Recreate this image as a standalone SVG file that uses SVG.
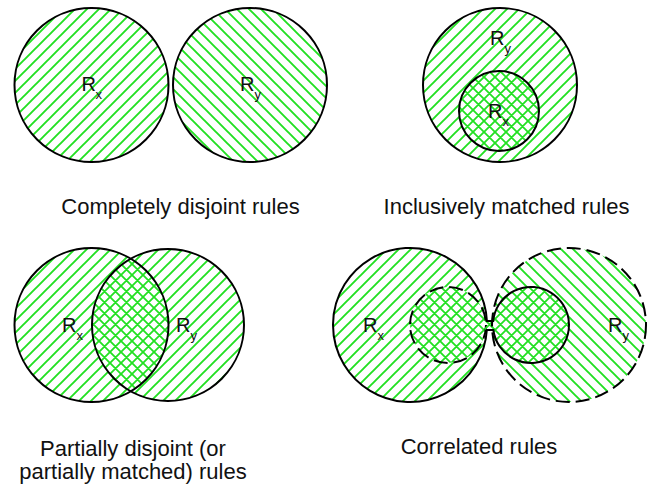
<svg xmlns="http://www.w3.org/2000/svg" width="647" height="484" viewBox="0 0 647 484">
<style>
.c{fill:none;stroke:#000;stroke-width:2}
.d{fill:none;stroke:#000;stroke-width:2;stroke-dasharray:14 6}
.f{fill:url(#hf)}
.b{fill:url(#hb)}
.x{fill:url(#hx)}
.w{fill:#fff}
text{font-family:"Liberation Sans",Arial,sans-serif;fill:#111}
.cap{font-size:22px;text-anchor:middle}
.R{font-size:20px}
.s{font-size:13px}
</style>
<defs>
<pattern id="hf" patternUnits="userSpaceOnUse" width="12" height="12">
<path d="M-1,1 L1,-1 M0,12 L12,0 M11,13 L13,11" stroke="#22e022" stroke-width="1.9"/>
</pattern>
<pattern id="hb" patternUnits="userSpaceOnUse" width="12" height="12">
<path d="M-1,11 L1,13 M0,0 L12,12 M11,-1 L13,1" stroke="#22e022" stroke-width="1.9"/>
</pattern>
<pattern id="hx" patternUnits="userSpaceOnUse" width="11" height="11">
<path d="M-1,1 L1,-1 M0,11 L11,0 M10,12 L12,10 M-1,10 L1,12 M0,0 L11,11 M10,-1 L12,1" stroke="#22e022" stroke-width="1.8"/>
</pattern>
<clipPath id="clipRx3"><circle cx="91.5" cy="325" r="77"/></clipPath>
</defs>
<rect width="647" height="484" fill="#fff"/>

<g id="disjoint">
<g id="d-rx">
<circle class="f" cx="91.5" cy="85" r="77"/>
<circle class="c" cx="91.5" cy="85" r="77"/>
<text class="R" x="81.5" y="91">R</text><text class="s" x="95.5" y="99">x</text>
</g>
<g id="d-ry">
<circle class="b" cx="250" cy="85" r="77"/>
<circle class="c" cx="250" cy="85" r="77"/>
<text class="R" x="240" y="91">R</text><text class="s" x="254.5" y="99">y</text>
</g>
<text class="cap" x="180.5" y="214">Completely disjoint rules</text>
</g>

<g id="inclusive">
<g id="i-ry">
<circle class="f" cx="500" cy="85" r="77"/>
<circle class="c" cx="500" cy="85" r="77"/>
<text class="R" x="490" y="45">R</text><text class="s" x="504.5" y="53">y</text>
</g>
<g id="i-rx">
<circle class="w" cx="499" cy="111" r="40"/>
<circle class="x" cx="499" cy="111" r="40"/>
<circle class="c" cx="499" cy="111" r="40"/>
<text class="R" x="488" y="118">R</text><text class="s" x="502.5" y="126">x</text>
</g>
<text class="cap" x="506.5" y="214">Inclusively matched rules</text>
</g>

<g id="partial">
<g id="p-rx">
<circle class="f" cx="91.5" cy="325" r="77"/>
</g>
<g id="p-ry">
<circle class="f" cx="168" cy="325" r="76"/>
<circle class="w" cx="168" cy="325" r="76" clip-path="url(#clipRx3)"/>
<circle class="x" cx="168" cy="325" r="76" clip-path="url(#clipRx3)"/>
<circle class="c" cx="168" cy="325" r="76"/>
<text class="R" x="176" y="332">R</text><text class="s" x="190.5" y="340">y</text>
</g>
<circle class="c" cx="91.5" cy="325" r="77"/>
<text class="R" x="62" y="332">R</text><text class="s" x="76.5" y="340">x</text>
<text class="cap" x="133" y="455.5">Partially disjoint (or</text>
<text class="cap" x="133" y="478.5">partially matched) rules</text>
</g>

<g id="correlated">
<g id="c-rx">
<circle class="f" cx="410" cy="325" r="77"/>
<circle class="w" cx="448" cy="325" r="38"/>
<circle class="x" cx="448" cy="325" r="38"/>
<circle class="d" cx="448" cy="325" r="38"/>
<text class="R" x="363" y="332">R</text><text class="s" x="377.5" y="340">x</text>
</g>
<g id="c-ry">
<circle class="b" cx="569" cy="325" r="77"/>
<circle class="w" cx="531" cy="325" r="38"/>
<circle class="x" cx="531" cy="325" r="38"/>
<rect class="x" x="485" y="321" width="10" height="9"/>
<circle class="d" cx="569" cy="325" r="77"/>
<text class="R" x="608" y="332">R</text><text class="s" x="622.5" y="340">y</text>
</g>
<g id="connectors">
<path class="c" d="M486.9,321 A77,77 0 1 0 486.84,330 L493.33,330 A38,38 0 1 0 493.2,321 Z"/>
</g>
<text class="cap" x="479" y="454">Correlated rules</text>
</g>
</svg>
